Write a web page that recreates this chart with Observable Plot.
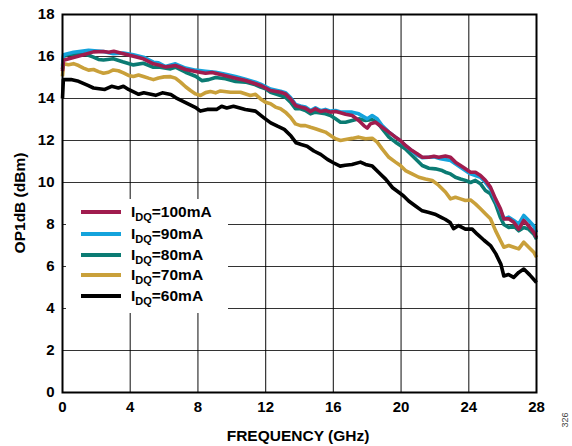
<!DOCTYPE html>
<html><head><meta charset="utf-8">
<script src="https://cdn.jsdelivr.net/npm/d3@7"></script>
<script src="https://cdn.jsdelivr.net/npm/@observablehq/plot@0.6"></script>
<style>
body{margin:0;background:#fff;}
#wrap{position:relative;width:572px;height:446px;font-family:"Liberation Sans",Arial,sans-serif;font-weight:bold;color:#000;}
#legend{position:absolute;left:66px;top:199px;width:162px;height:114px;background:#fff;}
.row{position:absolute;left:15px;height:20px;display:flex;align-items:center;white-space:nowrap;}
.sw{width:40px;height:4px;margin-right:10px;}
.lbl{font-size:15.5px;line-height:20px;}
.lbl sub{font-size:11px;vertical-align:-4px;line-height:0;}
#ytitle{position:absolute;left:20px;top:203px;transform:translate(-50%,-50%) rotate(-90deg);font-size:15.5px;white-space:nowrap;}
#xtitle{position:absolute;left:298px;top:436px;transform:translate(-50%,-50%);font-size:15.5px;white-space:nowrap;}
#note{position:absolute;left:565px;top:420px;transform:translate(-50%,-50%) rotate(-90deg);font-size:9px;font-weight:normal;color:#444;}
</style></head>
<body><div id="wrap"></div>
<script>
const xTicks = [0,4,8,12,16,20,24,28];
const yTicks = [0,2,4,6,8,10,12,14,16,18];
const seriesNames = ["100mA","90mA","80mA","70mA","60mA"];
const seriesColors = ["#a01c4e","#14a3dc","#0b7b73","#c9a03a","#000000"];

const iq60 = [[0,14.0],[0.05,14.9],[0.5,14.9],[0.95,14.82],[1.5,14.62],[1.83,14.5],[2.5,14.43],[2.9,14.58],[3.3,14.5],[3.6,14.58],[3.9,14.43],[4.5,14.2],[4.8,14.27],[5.5,14.15],[5.9,14.27],[6.4,14.19],[6.7,14.03],[7.3,13.79],[7.9,13.55],[8.15,13.4],[8.55,13.48],[9.1,13.48],[9.4,13.63],[9.7,13.55],[10.1,13.63],[10.8,13.48],[11.4,13.4],[11.9,13.08],[12.3,12.84],[12.7,12.68],[13.1,12.53],[13.5,12.21],[13.8,11.89],[14.1,11.81],[14.45,11.73],[14.85,11.5],[15.25,11.34],[15.65,11.1],[16.0,10.94],[16.4,10.78],[16.7,10.82],[17.1,10.86],[17.6,10.97],[17.9,10.86],[18.3,10.78],[18.7,10.46],[19.1,10.15],[19.5,9.75],[19.9,9.51],[20.15,9.36],[20.45,9.12],[20.85,8.88],[21.25,8.65],[21.65,8.57],[22.0,8.49],[22.4,8.33],[22.6,8.25],[22.9,8.09],[23.1,7.8],[23.4,7.95],[23.8,7.78],[24.2,7.78],[24.5,7.54],[24.9,7.25],[25.3,6.98],[25.6,6.6],[25.9,6.1],[26.07,5.55],[26.35,5.62],[26.65,5.48],[26.95,5.72],[27.25,5.88],[27.6,5.6],[28.0,5.24]];

const iq70 = [[0,15.05],[0.06,15.66],[0.35,15.61],[0.65,15.66],[0.95,15.57],[1.24,15.45],[1.54,15.35],[1.83,15.38],[2.13,15.28],[2.42,15.2],[2.72,15.25],[3.0,15.36],[3.3,15.32],[3.6,15.22],[3.9,15.1],[4.19,15.05],[4.49,15.12],[4.78,15.05],[5.08,14.97],[5.37,14.9],[5.67,14.98],[6.0,15.03],[6.38,15.04],[6.67,14.97],[6.97,14.78],[7.27,14.56],[7.56,14.38],[7.86,14.22],[8.15,14.14],[8.45,14.28],[8.74,14.33],[9.04,14.27],[9.33,14.36],[9.92,14.3],[10.51,14.3],[11.1,14.14],[11.4,14.2],[11.7,13.98],[11.99,13.82],[12.29,13.75],[12.58,13.59],[12.88,13.51],[13.17,13.35],[13.47,13.11],[13.76,12.79],[14.06,12.71],[14.35,12.71],[14.65,12.63],[14.94,12.56],[15.24,12.48],[15.53,12.4],[15.83,12.24],[16.13,12.08],[16.42,12.0],[16.72,12.05],[17.11,12.1],[17.5,12.16],[17.9,12.08],[18.29,12.11],[18.59,11.92],[18.88,11.6],[19.28,11.2],[19.67,10.97],[19.96,10.81],[20.26,10.57],[20.65,10.41],[21.05,10.25],[21.44,10.17],[21.84,10.1],[22.23,9.86],[22.62,9.55],[22.92,9.22],[23.21,9.3],[23.51,9.22],[23.8,9.14],[24.1,9.17],[24.39,8.98],[24.69,8.75],[24.98,8.51],[25.28,8.27],[25.58,7.71],[25.87,7.24],[26.07,6.92],[26.36,7.0],[26.66,6.92],[26.95,6.84],[27.25,7.16],[27.54,6.92],[27.84,6.68],[28.0,6.44]];

const iq80 = [[0,15.4],[0.06,16.01],[0.37,16.12],[0.65,16.08],[1.24,16.13],[1.54,16.06],[1.83,15.97],[2.13,15.86],[2.42,15.83],[3.0,15.89],[3.55,15.75],[4.19,15.6],[4.78,15.68],[5.37,15.49],[5.67,15.5],[6.38,15.41],[6.67,15.49],[7.27,15.25],[7.86,15.06],[8.25,14.85],[8.64,14.9],[9.04,15.0],[9.63,14.94],[10.22,14.81],[10.81,14.78],[11.4,14.65],[11.7,14.54],[11.99,14.46],[12.29,14.3],[12.88,14.14],[13.17,14.06],[13.47,13.82],[13.76,13.51],[14.06,13.51],[14.35,13.43],[14.65,13.27],[14.94,13.35],[15.53,13.27],[15.83,13.19],[16.13,13.03],[16.42,12.87],[16.72,12.87],[17.11,12.95],[17.5,13.03],[17.9,12.95],[18.29,13.0],[18.59,12.87],[18.88,12.56],[19.28,12.16],[19.67,11.92],[19.96,11.76],[20.26,11.6],[20.65,11.29],[20.95,11.05],[21.25,10.81],[21.64,10.68],[22.03,10.65],[22.43,10.57],[22.62,10.49],[22.92,10.41],[23.21,10.25],[23.51,10.17],[23.8,10.1],[24.1,10.0],[24.39,10.1],[24.69,9.94],[24.98,9.62],[25.28,9.46],[25.58,8.98],[25.87,8.33],[26.07,8.0],[26.36,7.86],[26.66,7.93],[26.95,7.7],[27.25,7.86],[27.54,7.78],[27.84,7.54],[28.0,7.3]];

const iq90 = [[0,15.55],[0.06,16.08],[0.65,16.2],[1.54,16.29],[2.42,16.24],[3.0,16.13],[3.6,16.17],[4.19,16.08],[4.78,15.97],[5.37,15.73],[5.67,15.7],[6.08,15.52],[6.67,15.65],[7.27,15.45],[7.86,15.35],[8.45,15.3],[9.04,15.25],[9.63,15.15],[10.22,15.05],[10.81,14.92],[11.4,14.78],[11.7,14.68],[12.29,14.45],[12.88,14.35],[13.17,14.28],[13.47,14.05],[13.76,13.72],[14.06,13.64],[14.35,13.6],[14.65,13.43],[14.94,13.56],[15.24,13.42],[15.53,13.48],[15.83,13.4],[16.13,13.43],[16.42,13.36],[16.72,13.35],[17.11,13.35],[17.5,13.27],[18.0,13.03],[18.29,13.19],[18.59,13.03],[18.88,12.71],[19.28,12.4],[19.67,12.16],[19.96,11.98],[20.26,11.76],[20.65,11.5],[20.95,11.3],[21.25,11.18],[21.64,11.2],[21.94,11.22],[22.33,11.13],[22.92,11.05],[23.51,10.73],[24.1,10.41],[24.69,10.25],[24.98,10.01],[25.28,9.7],[25.58,9.14],[25.87,8.67],[26.07,8.27],[26.36,8.35],[26.66,8.19],[26.95,8.03],[27.25,8.43],[27.54,8.19],[27.84,7.93],[28.0,7.62]];

const iq100 = [[0,15.3],[0.06,15.82],[0.65,15.95],[1.24,16.08],[1.83,16.22],[2.42,16.24],[2.73,16.2],[3.03,16.25],[3.6,16.13],[4.19,16.01],[4.78,15.89],[5.37,15.65],[5.67,15.6],[6.08,15.5],[6.67,15.57],[7.27,15.38],[7.86,15.29],[8.45,15.2],[8.84,15.24],[9.63,15.08],[10.22,14.97],[10.81,14.86],[11.4,14.7],[11.7,14.62],[12.29,14.38],[12.88,14.3],[13.17,14.22],[13.47,13.98],[13.76,13.67],[14.06,13.59],[14.35,13.54],[14.65,13.38],[14.94,13.51],[15.24,13.38],[15.53,13.43],[15.83,13.35],[16.13,13.38],[16.42,13.32],[16.72,13.25],[17.11,13.19],[17.5,12.95],[17.8,12.71],[18.0,12.59],[18.19,12.79],[18.49,12.87],[18.88,12.63],[19.28,12.4],[19.67,12.16],[19.96,12.0],[20.26,11.76],[20.65,11.52],[20.95,11.37],[21.25,11.2],[21.64,11.2],[21.94,11.25],[22.23,11.2],[22.62,11.26],[22.92,11.2],[23.21,10.97],[23.51,10.81],[23.8,10.65],[24.1,10.49],[24.39,10.49],[24.69,10.33],[24.98,10.1],[25.28,9.78],[25.58,9.22],[25.87,8.75],[26.07,8.27],[26.36,8.27],[26.66,8.11],[26.95,7.78],[27.25,8.19],[27.54,7.93],[27.84,7.62],[28.0,7.38]];

const seriesData = [iq100, iq90, iq80, iq70, iq60];
const drawOrder = [4,3,2,1,0];

const FONT = "'Liberation Sans', Arial, sans-serif";
const lineMarks = drawOrder.map(i => Plot.line(seriesData[i], {
  x: d => d[0], y: d => d[1], stroke: seriesColors[i], strokeWidth: 3.6,
  strokeLinejoin: "round", strokeLinecap: "butt"
}));

const chart = Plot.plot({
  width: 572, height: 446,
  marginLeft: 62, marginRight: 36, marginTop: 14, marginBottom: 54,
  style: {fontFamily: FONT, fontSize: "15px", fontWeight: "bold", color: "#000", background: "#fff", overflow: "visible"},
  x: {domain: [0, 28], label: null},
  y: {domain: [0, 18], label: null},
  marks: [
    Plot.gridX(xTicks.slice(1, -1), {stroke: "#000", strokeOpacity: 0.8, strokeWidth: 1.2}),
    Plot.gridY(yTicks.slice(1, -1), {stroke: "#000", strokeOpacity: 0.8, strokeWidth: 1.2}),
    ...lineMarks,
    Plot.frame({stroke: "#000", strokeWidth: 2}),
    Plot.axisX(xTicks, {tickSize: 0, tickPadding: 9, label: null, fontWeight: "bold"}),
    Plot.axisY(yTicks, {tickSize: 0, tickPadding: 8, label: null, fontWeight: "bold"})
  ]
});

const wrap = document.getElementById("wrap");
wrap.appendChild(chart);

const legend = document.createElement("div");
legend.id = "legend";
const rowCenters = [13, 35, 56, 76, 97];
seriesNames.forEach((name, i) => {
  const row = document.createElement("div");
  row.className = "row";
  row.style.top = (rowCenters[i] - 10) + "px";
  const sw = document.createElement("div");
  sw.className = "sw";
  sw.style.background = seriesColors[i];
  const lbl = document.createElement("span");
  lbl.className = "lbl";
  lbl.innerHTML = "I<sub>DQ</sub>=" + name;
  row.appendChild(sw); row.appendChild(lbl);
  legend.appendChild(row);
});
wrap.appendChild(legend);

const yt = document.createElement("div"); yt.id = "ytitle"; yt.textContent = "OP1dB (dBm)"; wrap.appendChild(yt);
const xt = document.createElement("div"); xt.id = "xtitle"; xt.textContent = "FREQUENCY (GHz)"; wrap.appendChild(xt);
const nt = document.createElement("div"); nt.id = "note"; nt.textContent = "326"; wrap.appendChild(nt);
</script>
</body></html>
